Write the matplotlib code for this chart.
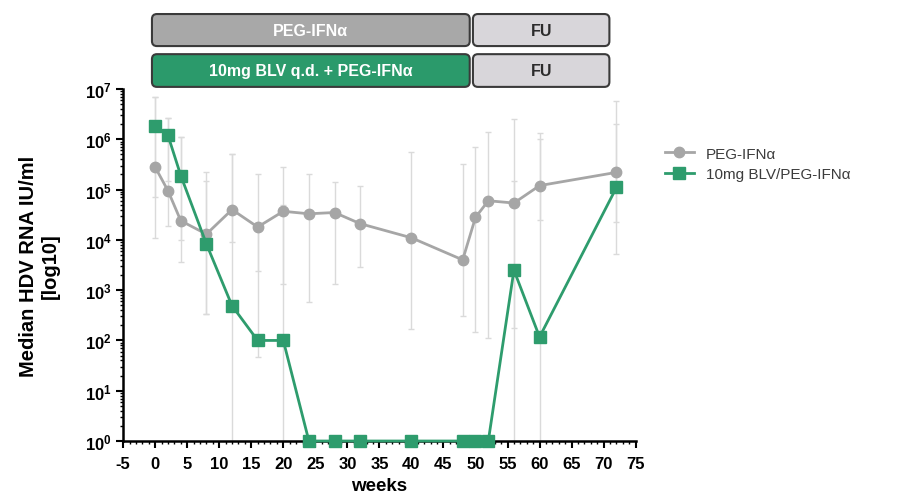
import numpy as np
import matplotlib
matplotlib.use('Agg')
import matplotlib.pyplot as plt
from matplotlib.patches import FancyBboxPatch
from matplotlib.ticker import FixedLocator, MultipleLocator, NullFormatter

plt.rcParams['font.family'] = ['Liberation Sans', 'DejaVu Sans']
plt.rcParams['mathtext.fontset'] = 'custom'
plt.rcParams['mathtext.rm'] = 'Liberation Sans:bold'
plt.rcParams['mathtext.default'] = 'rm'

# median HDV RNA per visit (IU/ml) with range whiskers
weeks = [0, 2, 4, 8, 12, 16, 20, 24, 28, 32, 40, 48, 50, 52, 56, 60, 72]

peg_med = [2.8e5, 9.5e4, 2.4e4, 1.3e4, 4.0e4, 1.8e4, 3.7e4, 3.3e4, 3.5e4, 2.1e4,
           1.1e4, 4.0e3, 2.8e4, 6.0e4, 5.4e4, 1.2e5, 2.2e5]
peg_lo = [1.1e4, 1.9e4, 3.6e3, 3.4e2, 9.0e3, 2.4e3, 1.3e3, 5.9e2, 1.3e3, 2.9e3,
          1.7e2, 3.0e2, 1.5e2, 1.1e2, 1.8e2, 2.5e4, 5.2e3]
peg_hi = [7.0e6, 2.7e6, 1.1e6, 2.2e5, 5.0e5, 2.0e5, 2.8e5, 2.0e5, 1.4e5, 1.2e5,
          5.6e5, 3.2e5, 7.0e5, 1.4e6, 2.5e6, 1.35e6, 5.8e6]

blv_med = [1.85e6, 1.2e6, 1.9e5, 8.3e3, 4.9e2, 1.0e2, 1.0e2, 1, 1, 1,
           1, 1, 1, 1, 2.5e3, 1.17e2, 1.1e5]
blv_lo = [7.0e4, 1.5e5, 1.0e4, 3.4e2, 1, 4.7e1, 1, 1, 1, 1,
          1, 1, 1, 1, 1, 1, 2.3e4]
blv_hi = [7.0e6, 2.7e6, 1.1e6, 1.5e5, 5.0e5, 2.0e4, 5.0e4, 1, 1, 1,
          1, 1, 1, 1, 1.5e5, 1.0e6, 2.0e6]

ytick_exp = [0, 1, 2, 3, 4, 5, 6, 7]
xticks = list(range(-5, 80, 5))

phase_labels = ["PEG-IFNα", "10mg BLV q.d. + PEG-IFNα"]
phase_colors = ['#a8a8a8', '#2b9a6b']
treat_span = (-0.5, 49.1)
fu_span = (49.6, 70.9)

grey = '#a6a6a6'
green = '#2e9c6d'
whisker = '#dadada'

fig = plt.figure(figsize=(9.12, 5.02), dpi=100)
ax = fig.add_axes([0.135, 0.1195, 0.562, 0.7012])

def yerr(med, lo, hi):
    med = np.array(med)
    return [med - np.array(lo), np.array(hi) - med]

ax.errorbar(weeks, peg_med, yerr=yerr(peg_med, peg_lo, peg_hi), fmt='none',
            ecolor=whisker, elinewidth=1, capsize=2.5, capthick=1, zorder=1)
ax.errorbar(weeks, blv_med, yerr=yerr(blv_med, blv_lo, blv_hi), fmt='none',
            ecolor=whisker, elinewidth=1, capsize=2.5, capthick=1, zorder=1)

ax.plot(weeks, peg_med, color=grey, lw=2, marker='o', ms=7.5,
        label='PEG-IFNα', zorder=3, clip_on=False)
ax.plot(weeks, blv_med, color=green, lw=2, marker='s', ms=8,
        label='10mg BLV/PEG-IFNα', zorder=4, clip_on=False)

ax.set_yscale('log')
ax.set_ylim(1, 1e7)
ax.set_xlim(-5, 75)

ax.yaxis.set_major_locator(FixedLocator([10.0 ** e for e in ytick_exp]))
ax.set_yticklabels(['10$^{%d}$' % e for e in ytick_exp])
minor = [m * 10.0 ** e for e in ytick_exp[:-1] for m in range(2, 10)]
ax.yaxis.set_minor_locator(FixedLocator(minor))
ax.yaxis.set_minor_formatter(NullFormatter())
ax.xaxis.set_major_locator(FixedLocator(xticks))
ax.set_xticklabels([str(t) for t in xticks])
ax.xaxis.set_minor_locator(MultipleLocator(1))

for s in ['top', 'right']:
    ax.spines[s].set_visible(False)
for s in ['left', 'bottom']:
    ax.spines[s].set_linewidth(1.8)
ax.tick_params(which='major', direction='out', length=5, width=1.5,
               labelsize=12, colors='black', pad=3)
ax.tick_params(axis='x', which='major', pad=6)
ax.tick_params(which='minor', direction='out', length=2.5, width=1)
for lab in ax.get_xticklabels() + ax.get_yticklabels():
    lab.set_fontweight('bold')

ax.set_xlabel('weeks', fontsize=13.5, fontweight='bold', labelpad=4)
ax.set_ylabel('Median HDV RNA IU/ml\n[log10]', fontsize=14.5,
              fontweight='bold', labelpad=18)

ax.legend(loc='upper left', bbox_to_anchor=(1.03, 0.875), frameon=False,
          fontsize=11, handlelength=1.9, labelspacing=0.4,
          labelcolor='#3c3c3c')

# treatment phase banners above the axes (drawn in pixel space)
fig.canvas.draw()
rows = [(1.122, 1.213), (1.006, 1.099)]
for (y0, y1), label, col in zip(rows, phase_labels, phase_colors):
    for (x0, x1), text, fc, tc in [(treat_span, label, col, 'white'),
                                   (fu_span, 'FU', '#d8d6da', '#2b2b2b')]:
        px0, py0 = ax.transData.transform((x0, 1))[0], ax.transAxes.transform((0, y0))[1]
        px1, py1 = ax.transData.transform((x1, 1))[0], ax.transAxes.transform((0, y1))[1]
        box = FancyBboxPatch((px0 + 3, py0 + 3), px1 - px0 - 6, py1 - py0 - 6,
                             boxstyle='round,pad=3,rounding_size=5',
                             transform=None, fc=fc, ec='#3a3a3a', lw=1.5,
                             clip_on=False)
        fig.add_artist(box)
        fig.text((px0 + px1) / 2 / fig.bbox.width, (py0 + py1) / 2 / fig.bbox.height,
                 text, ha='center', va='center', color=tc,
                 fontsize=11.5, fontweight='bold')

fig.savefig('out.png', dpi=100)
